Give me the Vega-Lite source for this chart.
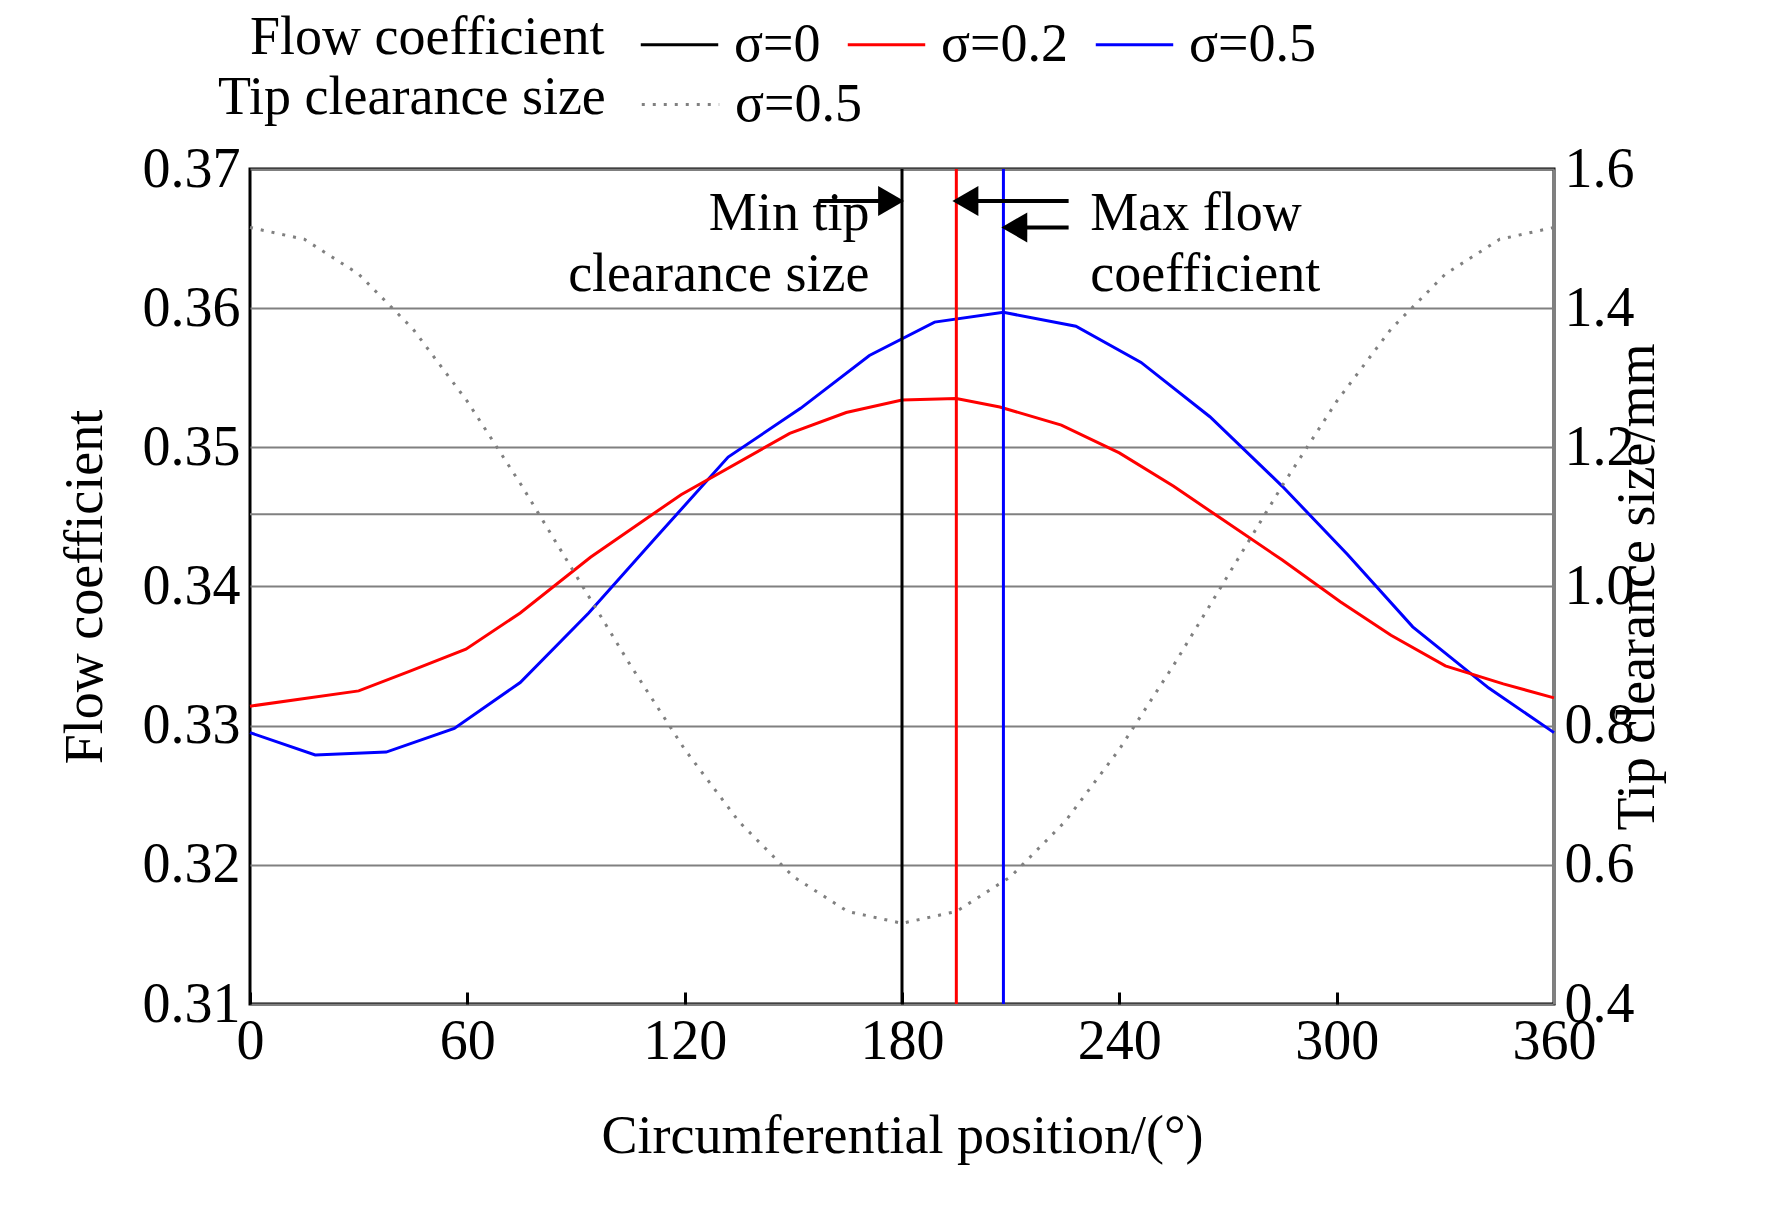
{
  "$schema": "https://vega.github.io/schema/vega-lite/v6.json",
  "width": 1304,
  "height": 835,
  "autosize": "none",
  "padding": {"left": 250, "top": 169, "right": 218, "bottom": 201},
  "background": "white",
  "datasets": {
    "flow": [
      {"pos": 0, "phi": 0.3295, "s": "σ=0.5"},
      {"pos": 18, "phi": 0.3279, "s": "σ=0.5"},
      {"pos": 37.6, "phi": 0.3281, "s": "σ=0.5"},
      {"pos": 56.4, "phi": 0.3298, "s": "σ=0.5"},
      {"pos": 74.6, "phi": 0.3331, "s": "σ=0.5"},
      {"pos": 93.5, "phi": 0.3381, "s": "σ=0.5"},
      {"pos": 112, "phi": 0.3435, "s": "σ=0.5"},
      {"pos": 132, "phi": 0.3493, "s": "σ=0.5"},
      {"pos": 152, "phi": 0.3528, "s": "σ=0.5"},
      {"pos": 171, "phi": 0.3566, "s": "σ=0.5"},
      {"pos": 189, "phi": 0.359, "s": "σ=0.5"},
      {"pos": 208, "phi": 0.3597, "s": "σ=0.5"},
      {"pos": 228, "phi": 0.3587, "s": "σ=0.5"},
      {"pos": 246, "phi": 0.3561, "s": "σ=0.5"},
      {"pos": 265, "phi": 0.3522, "s": "σ=0.5"},
      {"pos": 285, "phi": 0.3472, "s": "σ=0.5"},
      {"pos": 303, "phi": 0.3423, "s": "σ=0.5"},
      {"pos": 321, "phi": 0.3371, "s": "σ=0.5"},
      {"pos": 342, "phi": 0.3327, "s": "σ=0.5"},
      {"pos": 360, "phi": 0.3295, "s": "σ=0.5"},
      {"pos": 0, "phi": 0.3314, "s": "σ=0.2"},
      {"pos": 30, "phi": 0.3325, "s": "σ=0.2"},
      {"pos": 44, "phi": 0.3339, "s": "σ=0.2"},
      {"pos": 59.6, "phi": 0.3355, "s": "σ=0.2"},
      {"pos": 74.6, "phi": 0.3381, "s": "σ=0.2"},
      {"pos": 94, "phi": 0.3421, "s": "σ=0.2"},
      {"pos": 119, "phi": 0.3466, "s": "σ=0.2"},
      {"pos": 149, "phi": 0.351, "s": "σ=0.2"},
      {"pos": 164.6, "phi": 0.3525, "s": "σ=0.2"},
      {"pos": 180, "phi": 0.3534, "s": "σ=0.2"},
      {"pos": 195, "phi": 0.3535, "s": "σ=0.2"},
      {"pos": 207, "phi": 0.3529, "s": "σ=0.2"},
      {"pos": 224, "phi": 0.3516, "s": "σ=0.2"},
      {"pos": 240, "phi": 0.3496, "s": "σ=0.2"},
      {"pos": 255, "phi": 0.3472, "s": "σ=0.2"},
      {"pos": 268, "phi": 0.3449, "s": "σ=0.2"},
      {"pos": 285, "phi": 0.3419, "s": "σ=0.2"},
      {"pos": 301, "phi": 0.3389, "s": "σ=0.2"},
      {"pos": 315, "phi": 0.3365, "s": "σ=0.2"},
      {"pos": 330, "phi": 0.3343, "s": "σ=0.2"},
      {"pos": 346, "phi": 0.333, "s": "σ=0.2"},
      {"pos": 360, "phi": 0.332, "s": "σ=0.2"}
    ],
    "tip": [
      {"pos": 0, "tc": 1.516, "k": "σ=0.5"},
      {"pos": 15, "tc": 1.499, "k": "σ=0.5"},
      {"pos": 30, "tc": 1.449, "k": "σ=0.5"},
      {"pos": 45, "tc": 1.37, "k": "σ=0.5"},
      {"pos": 60, "tc": 1.266, "k": "σ=0.5"},
      {"pos": 75, "tc": 1.145, "k": "σ=0.5"},
      {"pos": 90, "tc": 1.016, "k": "σ=0.5"},
      {"pos": 105, "tc": 0.887, "k": "σ=0.5"},
      {"pos": 120, "tc": 0.766, "k": "σ=0.5"},
      {"pos": 135, "tc": 0.662, "k": "σ=0.5"},
      {"pos": 150, "tc": 0.583, "k": "σ=0.5"},
      {"pos": 165, "tc": 0.533, "k": "σ=0.5"},
      {"pos": 180, "tc": 0.516, "k": "σ=0.5"},
      {"pos": 195, "tc": 0.533, "k": "σ=0.5"},
      {"pos": 210, "tc": 0.583, "k": "σ=0.5"},
      {"pos": 225, "tc": 0.662, "k": "σ=0.5"},
      {"pos": 240, "tc": 0.766, "k": "σ=0.5"},
      {"pos": 255, "tc": 0.887, "k": "σ=0.5"},
      {"pos": 270, "tc": 1.016, "k": "σ=0.5"},
      {"pos": 285, "tc": 1.145, "k": "σ=0.5"},
      {"pos": 300, "tc": 1.266, "k": "σ=0.5"},
      {"pos": 315, "tc": 1.37, "k": "σ=0.5"},
      {"pos": 330, "tc": 1.449, "k": "σ=0.5"},
      {"pos": 345, "tc": 1.499, "k": "σ=0.5"},
      {"pos": 360, "tc": 1.516, "k": "σ=0.5"}
    ],
    "peaks": [
      {"pos": 180, "s": "σ=0"},
      {"pos": 195, "s": "σ=0.2"},
      {"pos": 208, "s": "σ=0.5"}
    ],
    "arrows": [
      {"x1": 157, "x2": 174, "y": 0.3677, "tip": 177, "shape": "triangle-right"},
      {"x1": 200, "x2": 226, "y": 0.3677, "tip": 197.5, "shape": "triangle-left"},
      {"x1": 214, "x2": 226, "y": 0.3658, "tip": 211, "shape": "triangle-left"}
    ],
    "notesL": [
      {"pos": 171, "y": 0.3668, "t": "Min tip"},
      {"pos": 171, "y": 0.3624, "t": "clearance size"}
    ],
    "notesR": [
      {"pos": 232, "y": 0.3668, "t": "Max flow"},
      {"pos": 232, "y": 0.3624, "t": "coefficient"}
    ],
    "extra": [{"v": 0.3452}]
  },
  "layer": [
    {
      "layer": [
        {
          "data": {"name": "extra"},
          "mark": {"type": "rule", "color": "#808080", "strokeWidth": 2},
          "encoding": {"y": {"field": "v", "type": "quantitative"}}
        },
        {
          "data": {"name": "flow"},
          "mark": {"type": "line", "strokeWidth": 3},
          "encoding": {
            "x": {
              "field": "pos", "type": "quantitative",
              "scale": {"domain": [0, 360], "nice": false},
              "axis": {"values": [0, 60, 120, 180, 240, 300, 360], "labelFlush": false, "title": "Circumferential position/(°)", "titlePadding": 40, "grid": false, "domain": false, "tickColor": "black", "tickWidth": 3, "tickSize": -12, "labelPadding": 22}
            },
            "y": {
              "field": "phi", "type": "quantitative",
              "scale": {"domain": [0.31, 0.37], "nice": false, "zero": false},
              "axis": {"values": [0.31, 0.32, 0.33, 0.34, 0.35, 0.36, 0.37], "format": ".2f", "title": "Flow coefficient", "titlePadding": 30, "grid": true, "gridColor": "#808080", "gridWidth": 2, "domain": false, "tickSize": 0, "labelPadding": 10, "labelFlush": false}
            },
            "color": {
              "field": "s", "type": "nominal",
              "scale": {"domain": ["σ=0", "σ=0.2", "σ=0.5"], "range": ["#000000", "#ff0000", "#0000ff"]},
              "legend": {"title": "Flow coefficient", "titleLimit": 600, "orient": "none", "legendX": 0, "legendY": -165, "direction": "horizontal", "titleOrient": "left", "symbolType": "stroke", "symbolSize": 6000, "symbolStrokeWidth": 3, "columnPadding": 20, "labelOffset": 14, "titlePadding": 34}
            }
          }
        },
        {
          "data": {"name": "peaks"},
          "mark": {"type": "rule", "strokeWidth": 3},
          "encoding": {
            "x": {"field": "pos", "type": "quantitative"},
            "color": {"field": "s", "type": "nominal"}
          }
        },
        {
          "data": {"name": "arrows"},
          "mark": {"type": "rule", "color": "black", "strokeWidth": 4},
          "encoding": {
            "x": {"field": "x1", "type": "quantitative"},
            "x2": {"field": "x2"},
            "y": {"field": "y", "type": "quantitative"}
          }
        },
        {
          "data": {"name": "arrows"},
          "mark": {"type": "point", "filled": true, "color": "black", "size": 900, "opacity": 1},
          "encoding": {
            "x": {"field": "tip", "type": "quantitative"},
            "y": {"field": "y", "type": "quantitative"},
            "shape": {"field": "shape", "type": "nominal", "scale": {"domain": ["triangle-right", "triangle-left"], "range": ["triangle-right", "triangle-left"]}, "legend": null}
          }
        },
        {
          "data": {"name": "notesL"},
          "mark": {"type": "text", "fontSize": 54, "font": "Liberation Serif", "baseline": "middle", "align": "right"},
          "encoding": {
            "x": {"field": "pos", "type": "quantitative"},
            "y": {"field": "y", "type": "quantitative"},
            "text": {"field": "t"}
          }
        },
        {
          "data": {"name": "notesR"},
          "mark": {"type": "text", "fontSize": 54, "font": "Liberation Serif", "baseline": "middle", "align": "left"},
          "encoding": {
            "x": {"field": "pos", "type": "quantitative"},
            "y": {"field": "y", "type": "quantitative"},
            "text": {"field": "t"}
          }
        }
      ]
    },
    {
      "data": {"name": "tip"},
      "mark": {"type": "line", "strokeWidth": 3, "color": "#808080"},
      "encoding": {
        "x": {"field": "pos", "type": "quantitative"},
        "y": {
          "field": "tc", "type": "quantitative",
          "scale": {"domain": [0.4, 1.6], "nice": false, "zero": false},
          "axis": {"orient": "right", "values": [0.4, 0.6, 0.8, 1.0, 1.2, 1.4, 1.6], "format": ".1f", "title": "Tip clearance size/mm", "titleAngle": 270, "titleBaseline": "bottom", "titlePadding": 30, "grid": false, "domainColor": "#808080", "domainWidth": 3, "tickSize": 0, "labelPadding": 10, "labelFlush": false}
        },
        "strokeDash": {
          "field": "k", "type": "nominal",
          "scale": {"range": [[3, 8]]},
          "legend": {"title": "Tip clearance size", "titleLimit": 600, "orient": "none", "legendX": -32, "legendY": -105, "direction": "horizontal", "titleOrient": "left", "symbolType": "stroke", "symbolSize": 6000, "symbolStrokeWidth": 3, "symbolStrokeColor": "#808080", "labelOffset": 14, "titlePadding": 34}
        }
      }
    }
  ],
  "resolve": {"scale": {"y": "independent"}},
  "config": {
    "font": "Liberation Serif",
    "view": {"stroke": "black", "strokeWidth": 3},
    "axis": {"labelFontSize": 56, "titleFontSize": 54, "labelColor": "black", "titleColor": "black", "titleFontWeight": "normal", "labelFont": "Liberation Serif", "titleFont": "Liberation Serif"},
    "legend": {"labelFontSize": 54, "titleFontSize": 54, "titleFontWeight": "normal", "labelColor": "black", "titleColor": "black", "labelFont": "Liberation Serif", "titleFont": "Liberation Serif", "labelLimit": 400}
  }
}
